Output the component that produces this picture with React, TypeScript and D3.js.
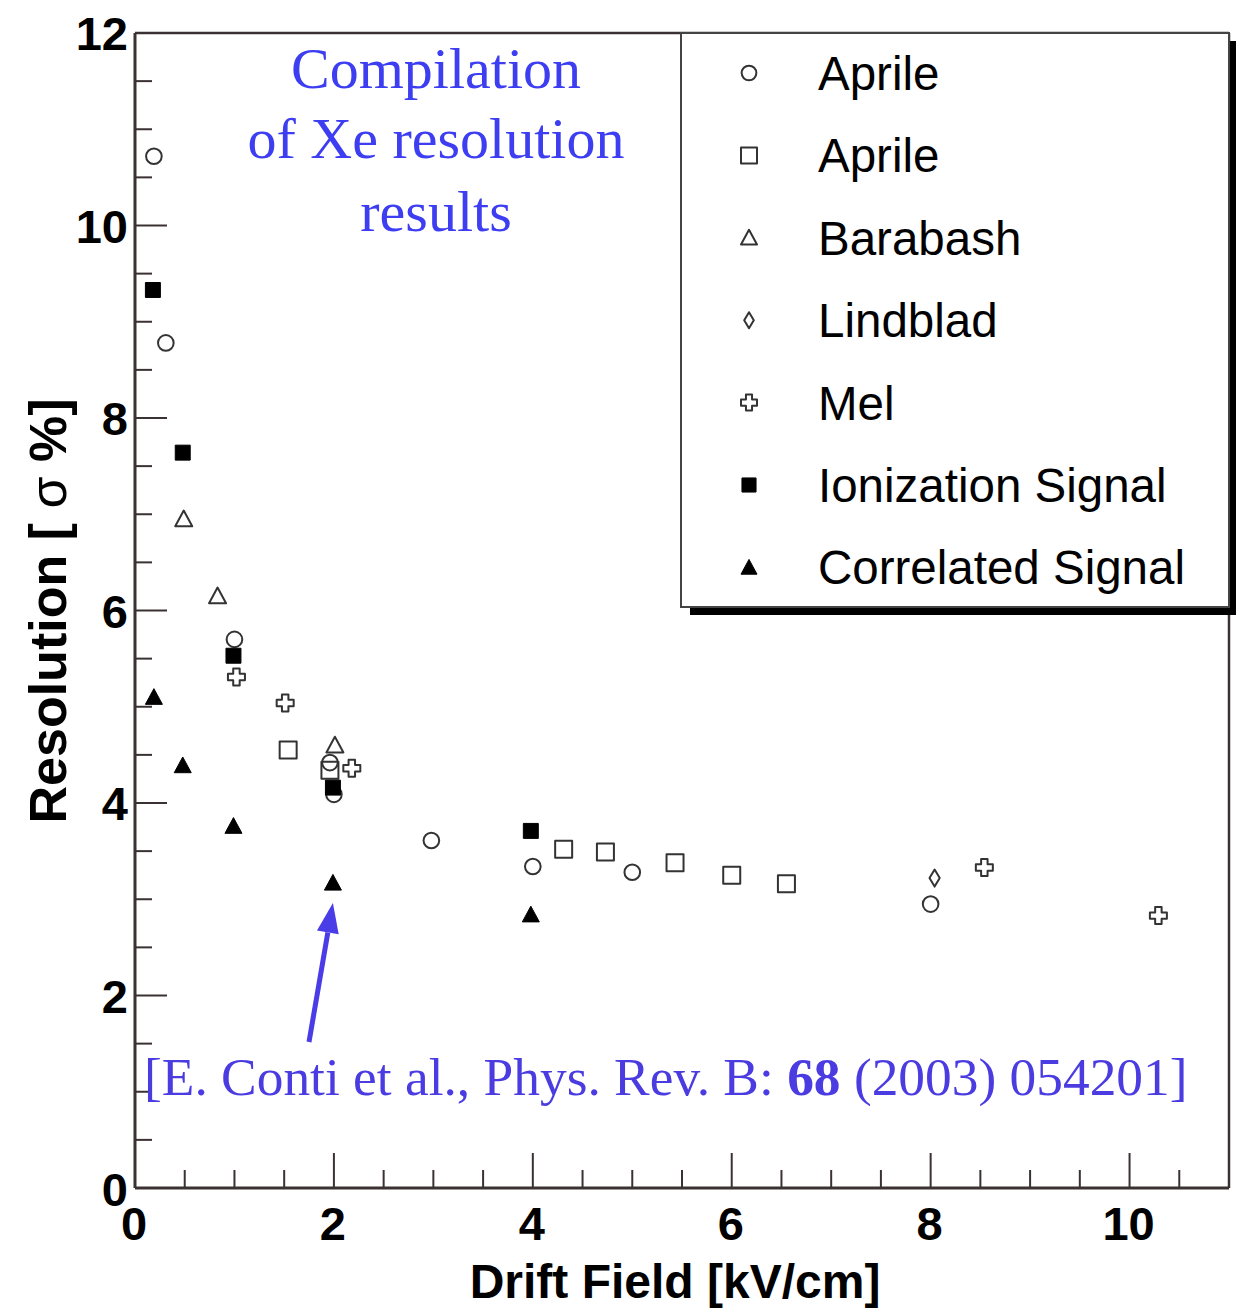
import React from "react";
import * as d3 from "d3";

// Drift field [kV/cm] and resolution [sigma %] for each data set
const aprileCircleX = [0.19, 0.31, 1.0, 1.96, 2.0, 2.98, 4.0, 5.0, 8.0];
const aprileCircleY = [10.72, 8.78, 5.70, 4.42, 4.09, 3.61, 3.34, 3.28, 2.95];

const aprileSquareX = [1.54, 1.96, 4.31, 4.73, 5.43, 6.0, 6.55];
const aprileSquareY = [4.55, 4.34, 3.52, 3.49, 3.38, 3.25, 3.16];

const barabashX = [0.49, 0.83, 2.01];
const barabashY = [6.95, 6.15, 4.60];

const lindbladX = [8.04];
const lindbladY = [3.22];

const melX = [1.02, 1.51, 2.18, 8.54, 10.29];
const melY = [5.31, 5.04, 4.36, 3.33, 2.83];

const ionizationX = [0.18, 0.48, 0.99, 1.99, 3.98];
const ionizationY = [9.33, 7.64, 5.53, 4.16, 3.71];

const correlatedX = [0.19, 0.48, 0.99, 1.99, 3.98];
const correlatedY = [5.10, 4.39, 3.76, 3.17, 2.84];

const legendLabels = [
  "Aprile",
  "Aprile",
  "Barabash",
  "Lindblad",
  "Mel",
  "Ionization Signal",
  "Correlated Signal",
];

const xTicks = [0, 2, 4, 6, 8, 10];
const yTicks = [0, 2, 4, 6, 8, 10, 12];

type Kind =
  | "openCircle"
  | "openSquare"
  | "openTriangle"
  | "openDiamond"
  | "openCross"
  | "fullSquare"
  | "fullTriangle";

const series: { kind: Kind; xs: number[]; ys: number[] }[] = [
  { kind: "openCircle", xs: aprileCircleX, ys: aprileCircleY },
  { kind: "openSquare", xs: aprileSquareX, ys: aprileSquareY },
  { kind: "openTriangle", xs: barabashX, ys: barabashY },
  { kind: "openDiamond", xs: lindbladX, ys: lindbladY },
  { kind: "openCross", xs: melX, ys: melY },
  { kind: "fullSquare", xs: ionizationX, ys: ionizationY },
  { kind: "fullTriangle", xs: correlatedX, ys: correlatedY },
];

function markerPath(kind: Kind, s: number): string {
  const h = s / 2;
  switch (kind) {
    case "openCircle": {
      const p = d3.path();
      p.arc(0, 0, h * 0.92, 0, Math.PI * 2);
      return p.toString();
    }
    case "openSquare":
      return `M${-h},${-h}H${h}V${h}H${-h}Z`;
    case "fullSquare": {
      const q = h * 0.88;
      return `M${-q},${-q}H${q}V${q}H${-q}Z`;
    }
    case "openTriangle":
    case "fullTriangle":
      return `M0,${-h}L${h},${h * 0.85}L${-h},${h * 0.85}Z`;
    case "openDiamond":
      return `M0,${-h}L${h * 0.6},0L0,${h}L${-h * 0.6},0Z`;
    case "openCross": {
      const a = h * 0.38;
      return `M${-a},${-h}H${a}V${-a}H${h}V${a}H${a}V${h}H${-a}V${a}H${-h}V${-a}H${-a}Z`;
    }
  }
}

function Marker({ kind, cx, cy, s }: { kind: Kind; cx: number; cy: number; s: number }) {
  const filled = kind === "fullSquare" || kind === "fullTriangle";
  return (
    <path
      d={markerPath(kind, s)}
      transform={`translate(${cx},${cy})`}
      fill={filled ? "#000" : "none"}
      stroke={filled ? "#000" : "#333"}
      strokeWidth={filled ? 1 : 2}
      strokeLinejoin="round"
    />
  );
}

export default function App() {
  const W = 1240;
  const H = 1309;
  const left = 135;
  const right = 1229;
  const top = 33;
  const bottom = 1188;

  const x = d3.scaleLinear().domain([0, 11]).range([left, right]);
  const y = d3.scaleLinear().domain([0, 12]).range([bottom, top]);

  const xMinor = d3.range(0, 11.001, 0.5).filter((v) => !xTicks.includes(v));
  const yMinor = d3.range(0, 12.001, 0.5).filter((v) => !yTicks.includes(v));

  const axisColor = "#3a3232";
  const sans = "'Liberation Sans', Arial, Helvetica, sans-serif";
  const serif = "'Liberation Serif', 'Times New Roman', serif";

  // Legend box geometry
  const lgL = 681;
  const lgR = 1229;
  const lgT = 33;
  const lgB = 607;
  const rowY = d3.range(legendLabels.length).map((i) => 73 + i * 82.4);

  // Arrow pointing at the correlated-signal point at 2 kV/cm
  const tip: [number, number] = [x(1.99), y(3.17) + 20];
  const tail: [number, number] = [309, 1042];
  const ang = Math.atan2(tip[1] - tail[1], tip[0] - tail[0]);
  const headLen = 30;
  const headW = 11;
  const bx = tip[0] - headLen * Math.cos(ang);
  const by = tip[1] - headLen * Math.sin(ang);
  const px = -Math.sin(ang);
  const py = Math.cos(ang);
  const arrowColor = "#4a3ce6";

  return (
    <svg
      width={W}
      height={H}
      viewBox={`0 0 ${W} ${H}`}
      style={{ position: "absolute", left: 0, top: 0, background: "#fff" }}
    >
      <rect x={0} y={0} width={W} height={H} fill="#fff" />

      {/* frame */}
      <line x1={left} y1={top} x2={left} y2={bottom} stroke={axisColor} strokeWidth={3} />
      <line x1={left} y1={bottom} x2={right} y2={bottom} stroke={axisColor} strokeWidth={3} />
      <line x1={left} y1={top} x2={right} y2={top} stroke={axisColor} strokeWidth={2.5} />
      <line x1={right} y1={top} x2={right} y2={bottom} stroke={axisColor} strokeWidth={2.5} />

      {/* x ticks */}
      {xTicks.map((t) => (
        <line key={`xM${t}`} x1={x(t)} x2={x(t)} y1={bottom} y2={bottom - 35} stroke={axisColor} strokeWidth={2} />
      ))}
      {xMinor.map((t) => (
        <line key={`xm${t}`} x1={x(t)} x2={x(t)} y1={bottom} y2={bottom - 18} stroke={axisColor} strokeWidth={2} />
      ))}
      {/* y ticks */}
      {yTicks.map((t) => (
        <line key={`yM${t}`} x1={left} x2={left + 32} y1={y(t)} y2={y(t)} stroke={axisColor} strokeWidth={2} />
      ))}
      {yMinor.map((t) => (
        <line key={`ym${t}`} x1={left} x2={left + 17} y1={y(t)} y2={y(t)} stroke={axisColor} strokeWidth={2} />
      ))}

      {/* tick labels */}
      {xTicks.map((t) => (
        <text
          key={`xl${t}`}
          x={x(t) - 1}
          y={bottom + 52}
          textAnchor="middle"
          fontFamily={sans}
          fontWeight="bold"
          fontSize={47}
          fill="#000"
        >
          {t}
        </text>
      ))}
      {yTicks.map((t) => (
        <text
          key={`yl${t}`}
          x={left - 7}
          y={y(t) + (t === 0 ? 18 : 17)}
          textAnchor="end"
          fontFamily={sans}
          fontWeight="bold"
          fontSize={47}
          fill="#000"
        >
          {t}
        </text>
      ))}

      {/* axis titles */}
      <text
        x={(left + right) / 2 - 7}
        y={1298}
        textAnchor="middle"
        fontFamily={sans}
        fontWeight="bold"
        fontSize={48}
        fill="#000"
      >
        Drift Field [kV/cm]
      </text>
      <text
        transform={`translate(66,${611}) rotate(-90)`}
        textAnchor="middle"
        fontFamily={sans}
        fontWeight="bold"
        fontSize={52}
        fill="#000"
      >
        Resolution [ <tspan fontWeight="normal">σ</tspan> %]
      </text>

      {/* data points */}
      {series.map((sr, i) =>
        sr.xs.map((xv, j) => (
          <Marker key={`p${i}-${j}`} kind={sr.kind} cx={x(xv)} cy={y(sr.ys[j])} s={17} />
        ))
      )}

      {/* legend */}
      <rect x={lgL + 9} y={lgB} width={lgR - lgL - 3} height={8} fill="#000" />
      <rect x={lgR} y={lgT + 8} width={7} height={lgB - lgT} fill="#000" />
      <rect x={lgL} y={lgT} width={lgR - lgL} height={lgB - lgT} fill="#fff" stroke="#444" strokeWidth={2} />
      {legendLabels.map((lab, i) => (
        <g key={`lg${i}`}>
          <Marker kind={series[i].kind} cx={749} cy={rowY[i]} s={16} />
          <text x={818} y={rowY[i] + 17} fontFamily={sans} fontSize={47.5} fill="#000">
            {lab}
          </text>
        </g>
      ))}

      {/* annotation text */}
      <g fontFamily={serif} fontSize={58} fill="#3d3df2" textAnchor="middle">
        <text x={436} y={88}>Compilation</text>
        <text x={436} y={158}>of Xe resolution</text>
        <text x={436} y={231}>results</text>
      </g>
      <text x={144} y={1095} fontFamily={serif} fontSize={53.4} fill="#4b3ce2">
        [E. Conti et al., Phys. Rev. B: <tspan fontWeight="bold">68</tspan> (2003) 054201]
      </text>

      {/* arrow */}
      <line x1={tail[0]} y1={tail[1]} x2={bx} y2={by} stroke={arrowColor} strokeWidth={5} />
      <path
        d={`M${tip[0]},${tip[1]}L${bx + px * headW},${by + py * headW}L${bx - px * headW},${by - py * headW}Z`}
        fill={arrowColor}
      />
    </svg>
  );
}
